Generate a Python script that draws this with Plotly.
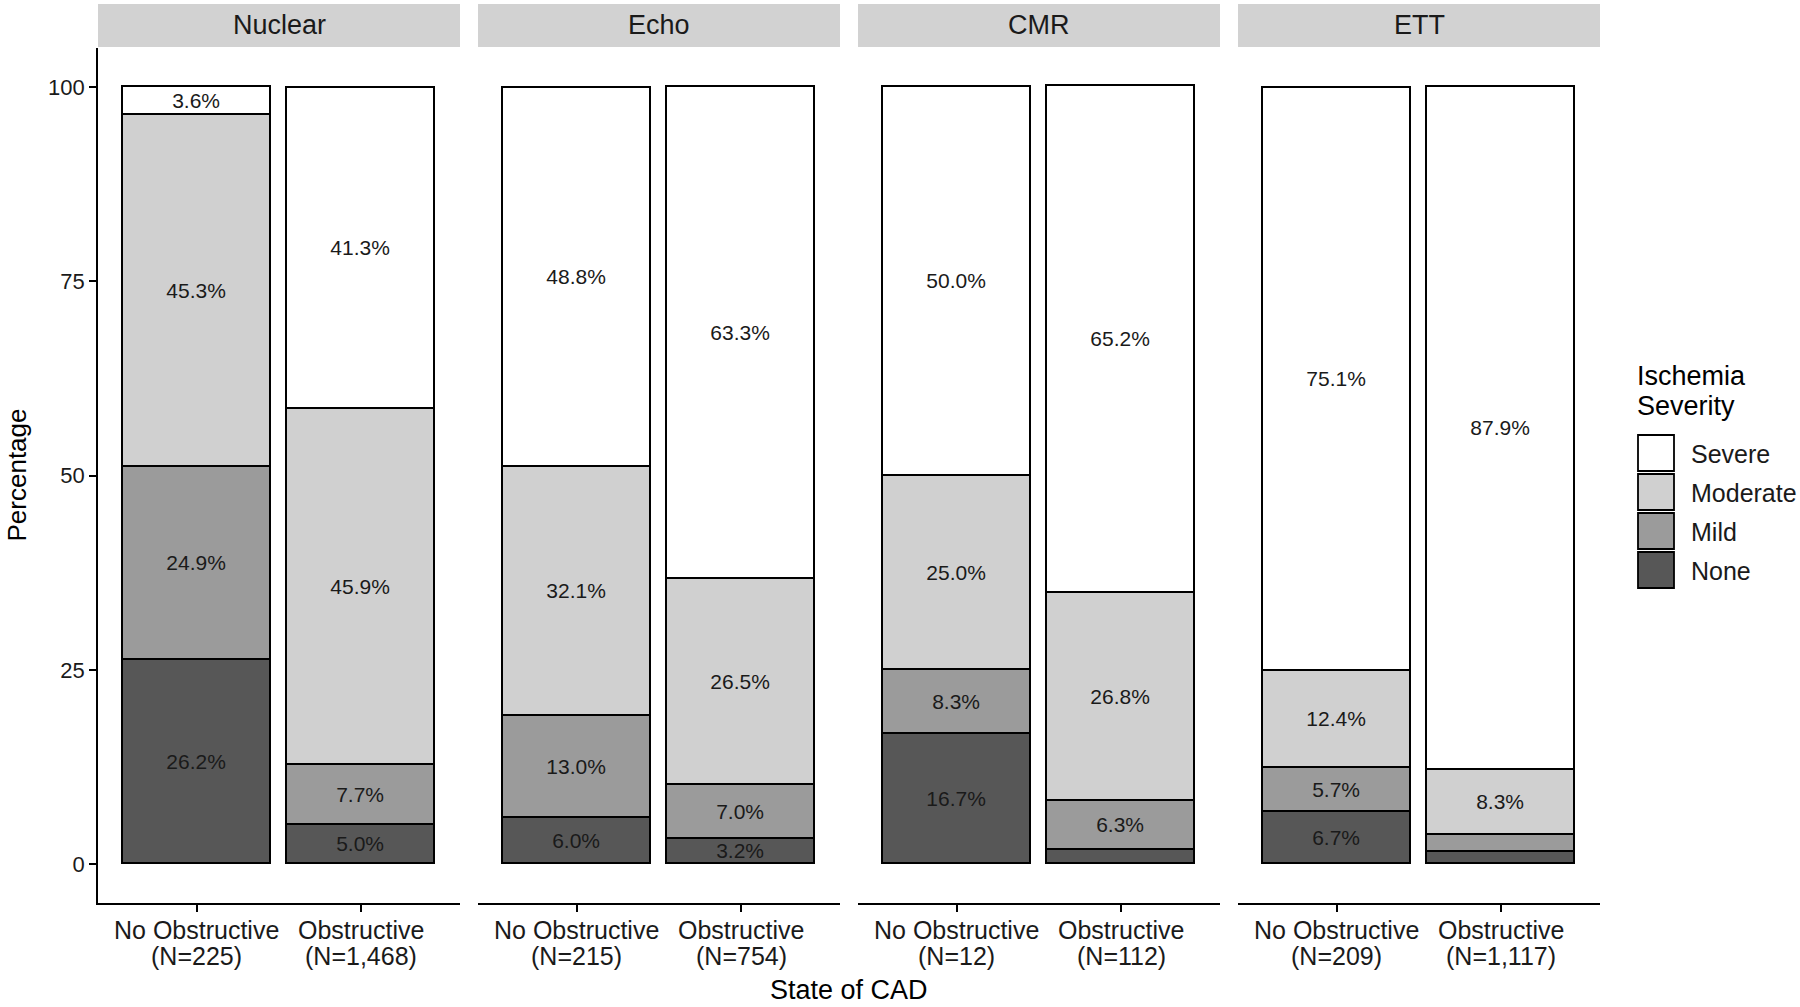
import plotly.graph_objects as go

# ---------------- data ----------------
modalities = ["Nuclear", "Echo", "CMR", "ETT"]
cad_states = ["No Obstructive", "Obstructive"]
n_counts = {
    "Nuclear": ["225", "1,468"],
    "Echo": ["215", "754"],
    "CMR": ["12", "112"],
    "ETT": ["209", "1,117"],
}
severity_levels = ["None", "Mild", "Moderate", "Severe"]  # bottom -> top
# percentages per modality: [No Obstructive, Obstructive]
pct_none = {"Nuclear": [26.2, 5.0], "Echo": [6.0, 3.2], "CMR": [16.7, 1.8], "ETT": [6.7, 1.6]}
pct_mild = {"Nuclear": [24.9, 7.7], "Echo": [13.0, 7.0], "CMR": [8.3, 6.3], "ETT": [5.7, 2.2]}
pct_moderate = {"Nuclear": [45.3, 45.9], "Echo": [32.1, 26.5], "CMR": [25.0, 26.8], "ETT": [12.4, 8.3]}
pct_severe = {"Nuclear": [3.6, 41.3], "Echo": [48.8, 63.3], "CMR": [50.0, 65.2], "ETT": [75.1, 87.9]}
y_ticks = [0, 25, 50, 75, 100]

series = {"None": pct_none, "Mild": pct_mild, "Moderate": pct_moderate, "Severe": pct_severe}
colors = {"None": "#575757", "Mild": "#9b9b9b", "Moderate": "#d0d0d0", "Severe": "#ffffff"}
legend_order = ["Severe", "Moderate", "Mild", "None"]

# ---------------- layout constants (page pixels) ----------------
W, H = 1800, 1007
FONT = "Liberation Sans, Arial, Helvetica, sans-serif"
panel_left = [98, 478, 858, 1238]
panel_w = 362
panel_top, panel_bottom = 48, 903
strip_top, strip_bottom = 4, 47


def px_x(p):
    return p / W


def px_y(p):
    return 1 - p / H


fig = go.Figure()
layout_axes = {}
annotations = []
for i, mod in enumerate(modalities):
    k = "" if i == 0 else str(i + 1)
    cats = [f"{c} (N={n})" for c, n in zip(cad_states, n_counts[mod])]
    for lvl in severity_levels:
        vals = series[lvl][mod]
        fig.add_trace(go.Bar(
            x=cats, y=vals, name=lvl,
            xaxis="x" + k, yaxis="y" + k,
            width=0.9,
            marker=dict(color=colors[lvl], line=dict(color="black", width=1.8)),
            text=[f"{v:.1f}%" if v >= 3 else "" for v in vals],
            textposition="inside", insidetextanchor="middle", textangle=0,
            constraintext="none",
            textfont=dict(family=FONT, size=21, color="#1a1a1a"),
            showlegend=False, hoverinfo="skip",
        ))
    layout_axes["xaxis" + k] = dict(
        domain=[px_x(panel_left[i]), px_x(panel_left[i] + panel_w)],
        anchor="y" + k, type="category", range=[-0.6, 1.6],
        categoryorder="array", categoryarray=cats,
        showline=True, linecolor="black", linewidth=1.6,
        ticks="outside", ticklen=7, tickwidth=1.6, tickcolor="black",
        showticklabels=False,
        showgrid=False, zeroline=False, fixedrange=True,
    )
    layout_axes["yaxis" + k] = dict(
        domain=[px_y(panel_bottom), px_y(panel_top)],
        anchor="x" + k, range=[-5, 105],
        tickvals=y_ticks, ticktext=[str(t) for t in y_ticks],
        showline=(i == 0), linecolor="black", linewidth=1.6,
        ticks="outside" if i == 0 else "", ticklen=7, tickwidth=1.6, tickcolor="black",
        showticklabels=(i == 0),
        tickfont=dict(family=FONT, size=22, color="#1a1a1a"),
        showgrid=False, zeroline=False, fixedrange=True,
    )
    # two-line category labels placed at the axis category positions
    for c, n, cat in zip(cad_states, n_counts[mod], cats):
        for txt, ypx in ((c, 930), (f"(N={n})", 956)):
            annotations.append(dict(text=txt, xref="x" + k, yref="paper",
                                    x=cat, y=px_y(ypx),
                                    xanchor="center", yanchor="middle", showarrow=False,
                                    font=dict(family=FONT, size=25, color="#1a1a1a")))

shapes = []
# facet strips
for i, mod in enumerate(modalities):
    shapes.append(dict(type="rect", xref="paper", yref="paper",
                       x0=px_x(panel_left[i]), x1=px_x(panel_left[i] + panel_w),
                       y0=px_y(strip_bottom), y1=px_y(strip_top),
                       fillcolor="#d2d2d2", line=dict(width=0), layer="below"))
    annotations.append(dict(text=mod, xref="paper", yref="paper",
                            x=px_x(panel_left[i] + panel_w / 2), y=px_y((strip_top + strip_bottom) / 2),
                            xanchor="center", yanchor="middle", showarrow=False,
                            font=dict(family=FONT, size=27, color="#1a1a1a")))

# axis titles
annotations.append(dict(text="Percentage", xref="paper", yref="paper",
                        x=px_x(16), y=px_y((panel_top + panel_bottom) / 2), textangle=-90,
                        xanchor="center", yanchor="middle", showarrow=False,
                        font=dict(family=FONT, size=26, color="black")))
annotations.append(dict(text="State of CAD", xref="paper", yref="paper",
                        x=px_x(849), y=px_y(990),
                        xanchor="center", yanchor="middle", showarrow=False,
                        font=dict(family=FONT, size=27, color="black")))

# legend (manual, ggplot-style)
annotations.append(dict(text="Ischemia", xref="paper", yref="paper",
                        x=px_x(1635), y=px_y(376), align="left",
                        xanchor="left", yanchor="middle", showarrow=False,
                        font=dict(family=FONT, size=27, color="black")))
annotations.append(dict(text="Severity", xref="paper", yref="paper",
                        x=px_x(1635), y=px_y(406), align="left",
                        xanchor="left", yanchor="middle", showarrow=False,
                        font=dict(family=FONT, size=27, color="black")))
key_top = 434
key_h = 39
for j, lvl in enumerate(legend_order):
    y0 = key_top + j * key_h
    shapes.append(dict(type="rect", xref="paper", yref="paper",
                       x0=px_x(1638), x1=px_x(1674), y0=px_y(y0 + key_h - 2), y1=px_y(y0 + 1),
                       fillcolor=colors[lvl], line=dict(color="black", width=1.8)))
    annotations.append(dict(text=lvl, xref="paper", yref="paper",
                            x=px_x(1689), y=px_y(y0 + key_h / 2),
                            xanchor="left", yanchor="middle", showarrow=False,
                            font=dict(family=FONT, size=25, color="#1a1a1a")))

fig.update_layout(
    width=W, height=H,
    margin=dict(l=0, r=0, t=0, b=0),
    paper_bgcolor="white", plot_bgcolor="white",
    barmode="stack", bargap=0,
    showlegend=False,
    shapes=shapes, annotations=annotations,
    font=dict(family=FONT, color="black"),
    **layout_axes,
)

fig.write_html(
    "out.html",
    config={"displayModeBar": False},
    post_script="document.body.style.margin='0';document.body.style.overflow='hidden';",
)
